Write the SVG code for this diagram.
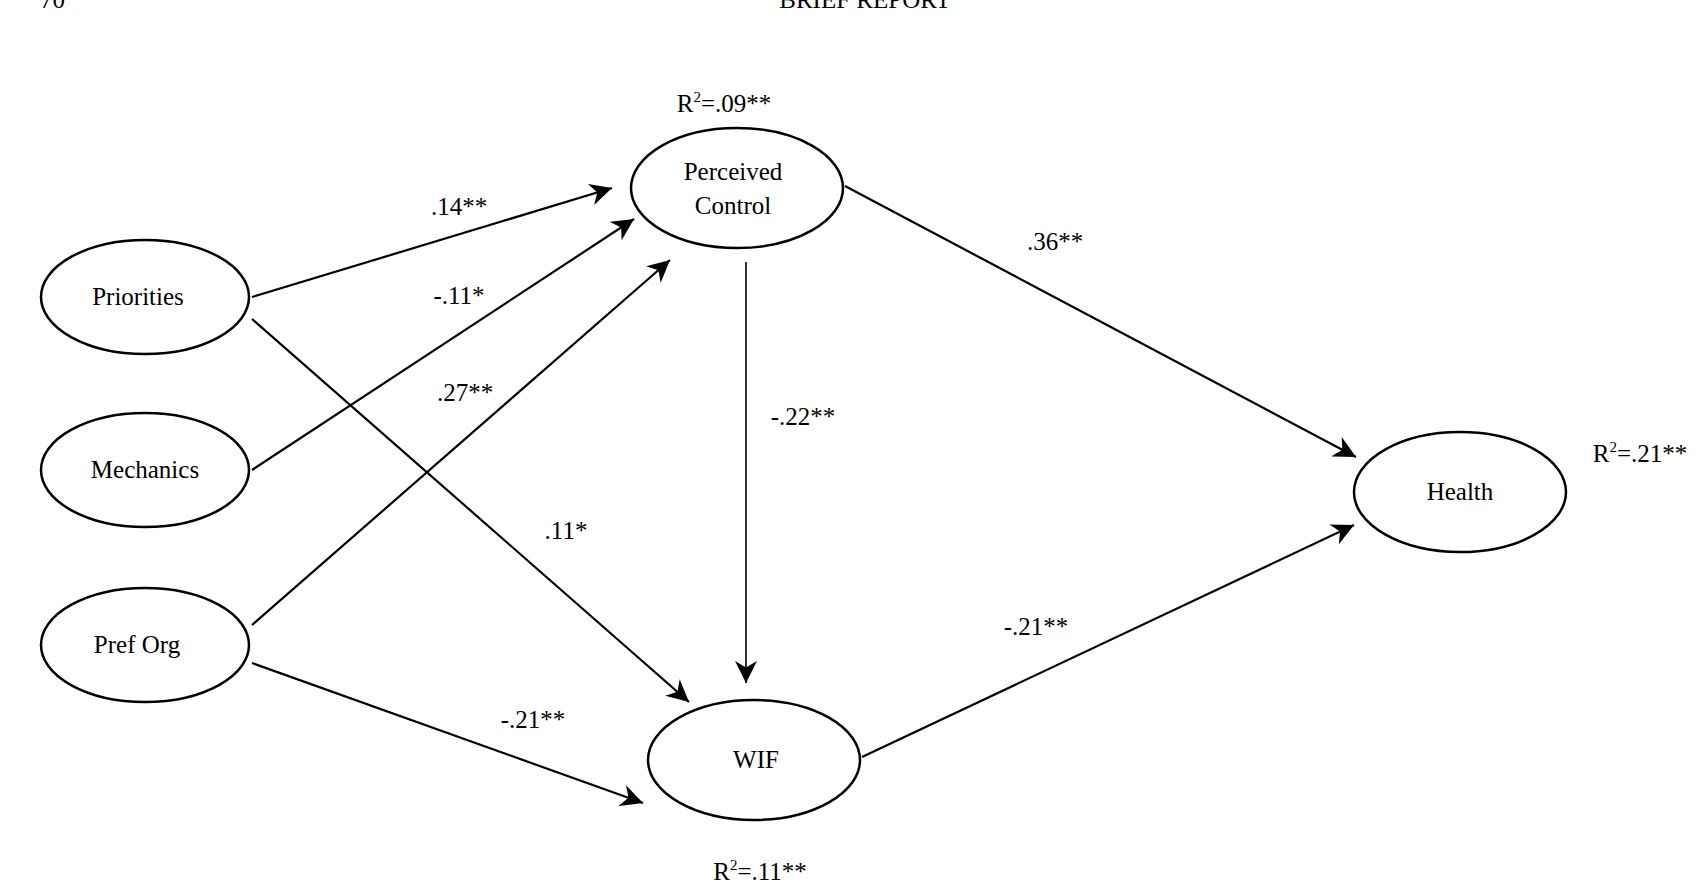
<svg xmlns="http://www.w3.org/2000/svg" width="1705" height="895" viewBox="0 0 1705 895">
<defs>
<marker id="ahb" viewBox="0 0 10 10" refX="10" refY="5" markerWidth="22" markerHeight="22" markerUnits="userSpaceOnUse" orient="auto"><path d="M0,0 L10,5 L0,10 L3,5 Z" fill="#000"/></marker>
</defs>
<style>
text{font-family:"Liberation Serif",serif;font-size:25px;fill:#000}
ellipse{fill:#fff;stroke:#000;stroke-width:2.5}
.c line{stroke:#000;stroke-width:2.2;marker-end:url(#ahb)}
.m{text-anchor:middle}
</style>
<rect width="1705" height="895" fill="#fff"/>
<text x="40" y="8">70</text>
<text x="865" y="8" class="m">BRIEF REPORT</text>
<g class="c" id="connectors">
<line x1="252" y1="297" x2="612" y2="188"/>
<line x1="252" y1="470" x2="634" y2="219"/>
<line x1="252" y1="625" x2="670" y2="260"/>
<line x1="252" y1="319" x2="689" y2="702"/>
<line x1="746" y1="262" x2="746" y2="683" style="stroke-width:1.6"/>
<line x1="252" y1="663" x2="643" y2="803"/>
<line x1="845" y1="186" x2="1356" y2="457"/>
<line x1="862" y1="757" x2="1354" y2="525"/>
</g>
<g id="labels">
<text x="459" y="215" class="m">.14**</text>
<text x="459" y="304" class="m">-.11*</text>
<text x="465" y="401" class="m">.27**</text>
<text x="566" y="539" class="m">.11*</text>
<text x="803" y="425" class="m">-.22**</text>
<text x="1055" y="250" class="m">.36**</text>
<text x="1036" y="635" class="m">-.21**</text>
<text x="533" y="728" class="m">-.21**</text>
<text x="724" y="112" class="m">R<tspan font-size="15" dy="-10">2</tspan><tspan dy="10">=.09**</tspan></text>
<text x="1640" y="462" class="m">R<tspan font-size="15" dy="-10">2</tspan><tspan dy="10">=.21**</tspan></text>
<text x="760" y="880" class="m">R<tspan font-size="15" dy="-10">2</tspan><tspan dy="10">=.11**</tspan></text>
</g>
<g id="priorities"><ellipse cx="145" cy="297" rx="104" ry="57"/><text x="138" y="305" class="m">Priorities</text></g>
<g id="mechanics"><ellipse cx="145" cy="470" rx="104" ry="57"/><text x="145" y="478" class="m">Mechanics</text></g>
<g id="preforg"><ellipse cx="145" cy="645" rx="104" ry="57"/><text x="137" y="653" class="m">Pref Org</text></g>
<g id="perceived"><ellipse cx="737" cy="188" rx="106" ry="60"/><text x="733" y="180" class="m">Perceived</text><text x="733" y="214" class="m">Control</text></g>
<g id="wif"><ellipse cx="754" cy="760" rx="106" ry="60"/><text x="756" y="768" class="m">WIF</text></g>
<g id="health"><ellipse cx="1460" cy="492" rx="106" ry="60"/><text x="1460" y="500" class="m">Health</text></g>
</svg>
